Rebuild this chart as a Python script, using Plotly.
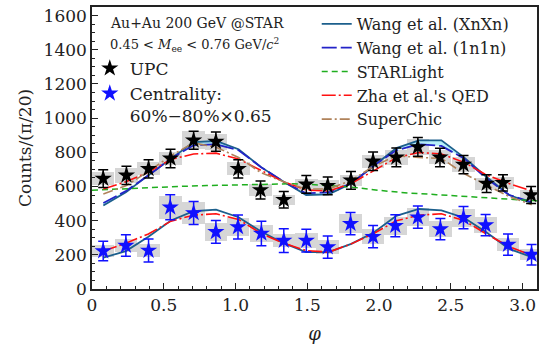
import plotly.graph_objects as go

# ---------------- data ----------------
phi_upc = [0.078, 0.240, 0.394, 0.547, 0.708, 0.863, 1.019, 1.174, 1.336, 1.493,
           1.642, 1.804, 1.958, 2.120, 2.270, 2.424, 2.588, 2.749, 2.863, 3.059]
upc = [646, 665, 703, 764, 870, 862, 703, 579, 522, 612,
       604, 636, 747, 770, 831, 770, 728, 617, 621, 550]
upc_stat = [52, 53, 53, 54, 53, 56, 53, 53, 48, 52, 52, 52, 54, 55, 55, 54, 53, 52, 48, 50]
upc_sys = [38, 43, 38, 40, 52, 46, 38, 33, 29, 32, 32, 33, 38, 46, 45, 41, 43, 35, 35, 29]

phi_cen = [0.078, 0.236, 0.394, 0.545, 0.708, 0.863, 1.017, 1.180, 1.336, 1.493,
           1.642, 1.801, 1.958, 2.113, 2.270, 2.427, 2.588, 2.742, 2.898, 3.062]
cen = [222, 254, 225, 478, 445, 334, 363, 325, 283, 283,
       245, 382, 306, 370, 420, 350, 417, 374, 260, 201]
cen_stat = [57, 63, 67, 73, 67, 67, 70, 72, 69, 67, 65, 65, 65, 65, 65, 62, 65, 62, 62, 60]
cen_sys = [33, 40, 36, 69, 62, 52, 55, 48, 40, 43, 43, 57, 45, 52, 52, 45, 52, 48, 38, 33]

box_width = 0.157  # bin width pi/20

phi_model = [0.079, 0.236, 0.393, 0.550, 0.707, 0.864, 1.021, 1.178, 1.335, 1.492,
             1.649, 1.806, 1.963, 2.120, 2.277, 2.434, 2.592, 2.749, 2.906, 3.063]
wang_xnxn_upc = [489, 566, 665, 764, 860, 866, 818, 713, 627, 550,
                 554, 617, 722, 824, 870, 870, 770, 655, 550, 503]
wang_1n1n_upc = [503, 573, 665, 764, 841, 847, 812, 713, 627, 560,
                 566, 617, 722, 812, 847, 837, 764, 646, 550, 509]
wang_xnxn_cen = [183, 222, 306, 401, 455, 464, 420, 336, 268, 216,
                 216, 264, 331, 428, 468, 460, 417, 331, 235, 187]
zha_upc = [585, 627, 684, 758, 790, 795, 761, 694, 627, 579,
           573, 617, 694, 768, 799, 790, 741, 667, 617, 573]
zha_cen = [222, 268, 322, 397, 432, 440, 407, 325, 268, 225,
           216, 264, 325, 399, 432, 440, 401, 321, 248, 197]
superchic_upc = [556, 604, 688, 780, 855, 830, 770, 680, 627, 585,
                 585, 636, 718, 780, 770, 764, 675, 608, 541, 493]

phi_sl = [0.0, 0.2, 0.4, 0.6, 0.8, 1.0, 1.2, 1.4, 1.6, 1.8, 2.0, 2.2, 2.4, 2.6, 2.8, 3.0, 3.1]
starlight_upc = [578, 586, 593, 600, 605, 610, 614, 616, 608, 597, 577, 562, 552, 543, 532, 521, 516]

x_tickvals = [0, 0.5, 1.0, 1.5, 2.0, 2.5, 3.0]
x_ticktext = ["0", "0.5", "1.0", "1.5", "2.0", "2.5", "3.0"]
y_tickvals = [0, 200, 400, 600, 800, 1000, 1200, 1400, 1600]

FONT = "DejaVu Serif"
GREY = "#d6d6d6"
TEAL = "#1c5f8c"
BLUE = "#2323c8"
GREEN = "#1fae1f"
RED = "#ff1010"
BROWN = "#b0825a"
DASH_RED = "14px,3px,2px,3px"
DASH_BROWN = "10px,3px,2px,3px"

fig = go.Figure()

# systematic boxes
for xs, ys, ss in [(phi_upc, upc, upc_sys), (phi_cen, cen, cen_sys)]:
    fig.add_trace(go.Bar(
        x=xs, y=[2 * s for s in ss], base=[v - s for v, s in zip(ys, ss)],
        width=box_width, marker=dict(color=GREY, line=dict(width=0)),
        showlegend=False, hoverinfo="skip"))

# band between the two Wang calculations (UPC)
fig.add_trace(go.Scatter(x=phi_model, y=wang_xnxn_upc, mode="lines",
                         line=dict(width=0, color=TEAL), showlegend=False, hoverinfo="skip"))
fig.add_trace(go.Scatter(x=phi_model, y=wang_1n1n_upc, mode="lines",
                         line=dict(width=0, color=BLUE), fill="tonexty",
                         fillcolor="rgba(175,238,248,0.9)", showlegend=False, hoverinfo="skip"))

# models
fig.add_trace(go.Scatter(x=phi_model, y=wang_xnxn_upc, mode="lines",
                         line=dict(color=TEAL, width=1.8),
                         name="Wang et al. (XnXn)", legend="legend"))
fig.add_trace(go.Scatter(x=phi_model, y=wang_1n1n_upc, mode="lines",
                         line=dict(color=BLUE, width=1.8, dash="15px,4px"),
                         name="Wang et al. (1n1n)", legend="legend"))
fig.add_trace(go.Scatter(x=phi_sl, y=starlight_upc, mode="lines",
                         line=dict(color=GREEN, width=1.5, dash="6px,4px"),
                         name="STARLight", legend="legend"))
fig.add_trace(go.Scatter(x=phi_model, y=zha_upc, mode="lines",
                         line=dict(color=RED, width=1.6, dash=DASH_RED),
                         name="Zha et al.'s QED", legend="legend"))
fig.add_trace(go.Scatter(x=phi_model, y=superchic_upc, mode="lines",
                         line=dict(color=BROWN, width=1.6, dash=DASH_BROWN),
                         name="SuperChic", legend="legend"))
fig.add_trace(go.Scatter(x=phi_model, y=wang_xnxn_cen, mode="lines",
                         line=dict(color=TEAL, width=1.8), showlegend=False))
fig.add_trace(go.Scatter(x=phi_model, y=zha_cen, mode="lines",
                         line=dict(color=RED, width=1.6, dash=DASH_RED),
                         showlegend=False))

# data points
fig.add_trace(go.Scatter(
    x=phi_upc, y=upc, mode="markers",
    marker=dict(symbol="star", size=13, color="black", line=dict(width=0)),
    error_y=dict(type="data", array=upc_stat, color="black", thickness=1.5, width=5),
    name="UPC", legend="legend2"))
fig.add_trace(go.Scatter(
    x=phi_cen, y=cen, mode="markers",
    marker=dict(symbol="star", size=13, color="#1010ff", line=dict(width=0)),
    error_y=dict(type="data", array=cen_stat, color="#1010ff", thickness=1.5, width=5),
    name="Centrality:<br>60%\u221280%\u00d70.65", legend="legend2"))

fig.add_annotation(x=0.035, y=0.978, xref="paper", yref="paper", xanchor="left", yanchor="top",
                   text="Au+Au 200 GeV @STAR", showarrow=False,
                   font=dict(family=FONT, size=14, color="#222"))
fig.add_annotation(x=0.035, y=0.905, xref="paper", yref="paper", xanchor="left", yanchor="top",
                   text="0.45 &lt; <i>M</i><sub>ee</sub> &lt; 0.76 GeV/<i>c</i><sup>2</sup>",
                   showarrow=False, font=dict(family=FONT, size=13, color="#222"))

fig.update_layout(
    width=544, height=346,
    margin=dict(l=92, r=5, t=7, b=50),
    plot_bgcolor="white", paper_bgcolor="white",
    barmode="overlay", bargap=0,
    font=dict(family=FONT, size=16, color="#222"),
    legend=dict(x=0.505, y=1.0, xanchor="left", yanchor="top", traceorder="normal",
                bgcolor="rgba(0,0,0,0)", font=dict(family=FONT, size=16),
                itemwidth=30, tracegroupgap=0),
    legend2=dict(x=-0.005, y=0.845, xanchor="left", yanchor="top", traceorder="normal",
                 bgcolor="rgba(0,0,0,0)", font=dict(family=FONT, size=17),
                 itemwidth=30, valign="top"),
    xaxis=dict(range=[0, 3.1], tickvals=x_tickvals, ticktext=x_ticktext,
               ticks="inside", ticklen=6, tickwidth=1.2, tickcolor="#222",
               minor=dict(dtick=0.1, ticks="inside", ticklen=3.5, tickwidth=1, tickcolor="#222"),
               showline=True, linecolor="#222", linewidth=1.5, mirror=True,
               showgrid=False, zeroline=False,
               title=dict(text="<i>\u03c6</i>", font=dict(family=FONT, size=18), standoff=13),
               tickfont=dict(family=FONT, size=17)),
    yaxis=dict(range=[0, 1650], tickvals=y_tickvals,
               ticks="inside", ticklen=6, tickwidth=1.2, tickcolor="#222",
               minor=dict(dtick=50, ticks="inside", ticklen=3.5, tickwidth=1, tickcolor="#222"),
               showline=True, linecolor="#222", linewidth=1.5, mirror=True,
               showgrid=False, zeroline=False,
               title=dict(text="Counts/(\u03c0/20)", font=dict(family=FONT, size=17), standoff=8),
               tickfont=dict(family=FONT, size=17)),
)

fig.write_html("out.html")
